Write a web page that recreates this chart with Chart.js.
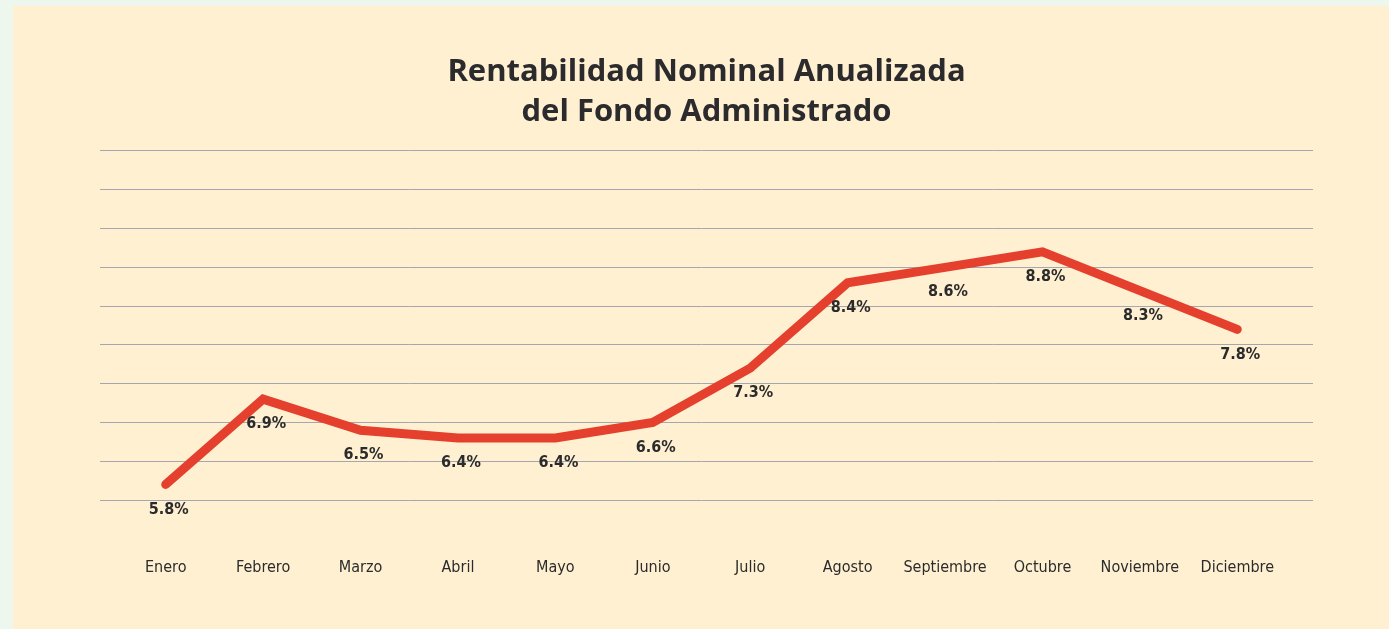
<!DOCTYPE html>
<html>
<head>
<meta charset="utf-8">
<script src="https://cdn.jsdelivr.net/npm/chart.js@4.4.0/dist/chart.umd.min.js"></script>
<style>
  html, body { margin: 0; padding: 0; background: #edf7ee; }
  #panel { position: absolute; left: 13px; top: 6px; width: 1376px; height: 623px; background: #fff0d2; }
  #wrap { position: absolute; left: 0; top: 0; width: 1389px; height: 629px; }
</style>
</head>
<body>
<div id="panel"></div>
<div id="wrap"><canvas id="rentChart"></canvas></div>
<script>
const months = ['Enero', 'Febrero', 'Marzo', 'Abril', 'Mayo', 'Junio', 'Julio', 'Agosto', 'Septiembre', 'Octubre', 'Noviembre', 'Diciembre'];
const rentabilidad = [5.8, 6.9, 6.5, 6.4, 6.4, 6.6, 7.3, 8.4, 8.6, 8.8, 8.3, 7.8];
const titleLines = ['Rentabilidad Nominal Anualizada', 'del Fondo Administrado'];

const narrow = "'Liberation Sans Narrow', 'DejaVu Sans Condensed', Roboto, sans-serif";

// value labels under each point
const valueLabels = {
    id: 'valueLabels',
    afterDatasetsDraw(chart) {
        const ctx = chart.ctx;
        const meta = chart.getDatasetMeta(0);
        ctx.save();
        ctx.font = 'bold 16px ' + narrow;
        ctx.fillStyle = '#2b2b2b';
        ctx.textAlign = 'center';
        ctx.textBaseline = 'middle';
        meta.data.forEach((pt, i) => {
            ctx.fillText(rentabilidad[i].toFixed(1) + '%', pt.x + 3, pt.y + 25);
        });
        ctx.restore();
    }
};

const ctx = document.getElementById('rentChart').getContext('2d');
new Chart(ctx, {
    type: 'line',
    data: {
        labels: months,
        datasets: [{
            data: rentabilidad,
            borderColor: '#e5402d',
            borderWidth: 9,
            borderCapStyle: 'round',
            borderJoinStyle: 'miter',
            pointRadius: 0,
            tension: 0
        }]
    },
    options: {
        responsive: true,
        maintainAspectRatio: false,
        animation: false,
        layout: { padding: { left: 100, right: 76, top: 0, bottom: 0 } },
        plugins: {
            legend: { display: false },
            tooltip: { enabled: false },
            title: {
                display: true,
                text: titleLines,
                color: '#2b2b2e',
                font: { family: "'Open Sans', Inter, sans-serif", size: 31, weight: 'bold', lineHeight: 1.29 },
                padding: { top: 52, bottom: 19 }
            }
        },
        scales: {
            x: {
                offset: true,
                grid: { display: false, drawTicks: false },
                border: { display: false },
                ticks: {
                    color: '#2b2b2b',
                    font: { family: narrow, size: 16 },
                    padding: 58,
                    maxRotation: 0,
                    autoSkip: false
                },
                afterFit: (scale) => { scale.height = 129; }
            },
            y: {
                min: 5.6,
                max: 10.1,
                ticks: { display: false, stepSize: 0.5 },
                border: { display: false },
                grid: { color: '#a4a7b0', lineWidth: 1, drawTicks: true, tickLength: 17 }
            },
            y2: {
                position: 'right',
                min: 5.6,
                max: 10.1,
                ticks: { display: false, stepSize: 0.5 },
                border: { display: false },
                grid: { color: '#a4a7b0', lineWidth: 1, drawOnChartArea: false, drawTicks: true, tickLength: 27 }
            }
        }
    },
    plugins: [valueLabels]
});
</script>
</body>
</html>
